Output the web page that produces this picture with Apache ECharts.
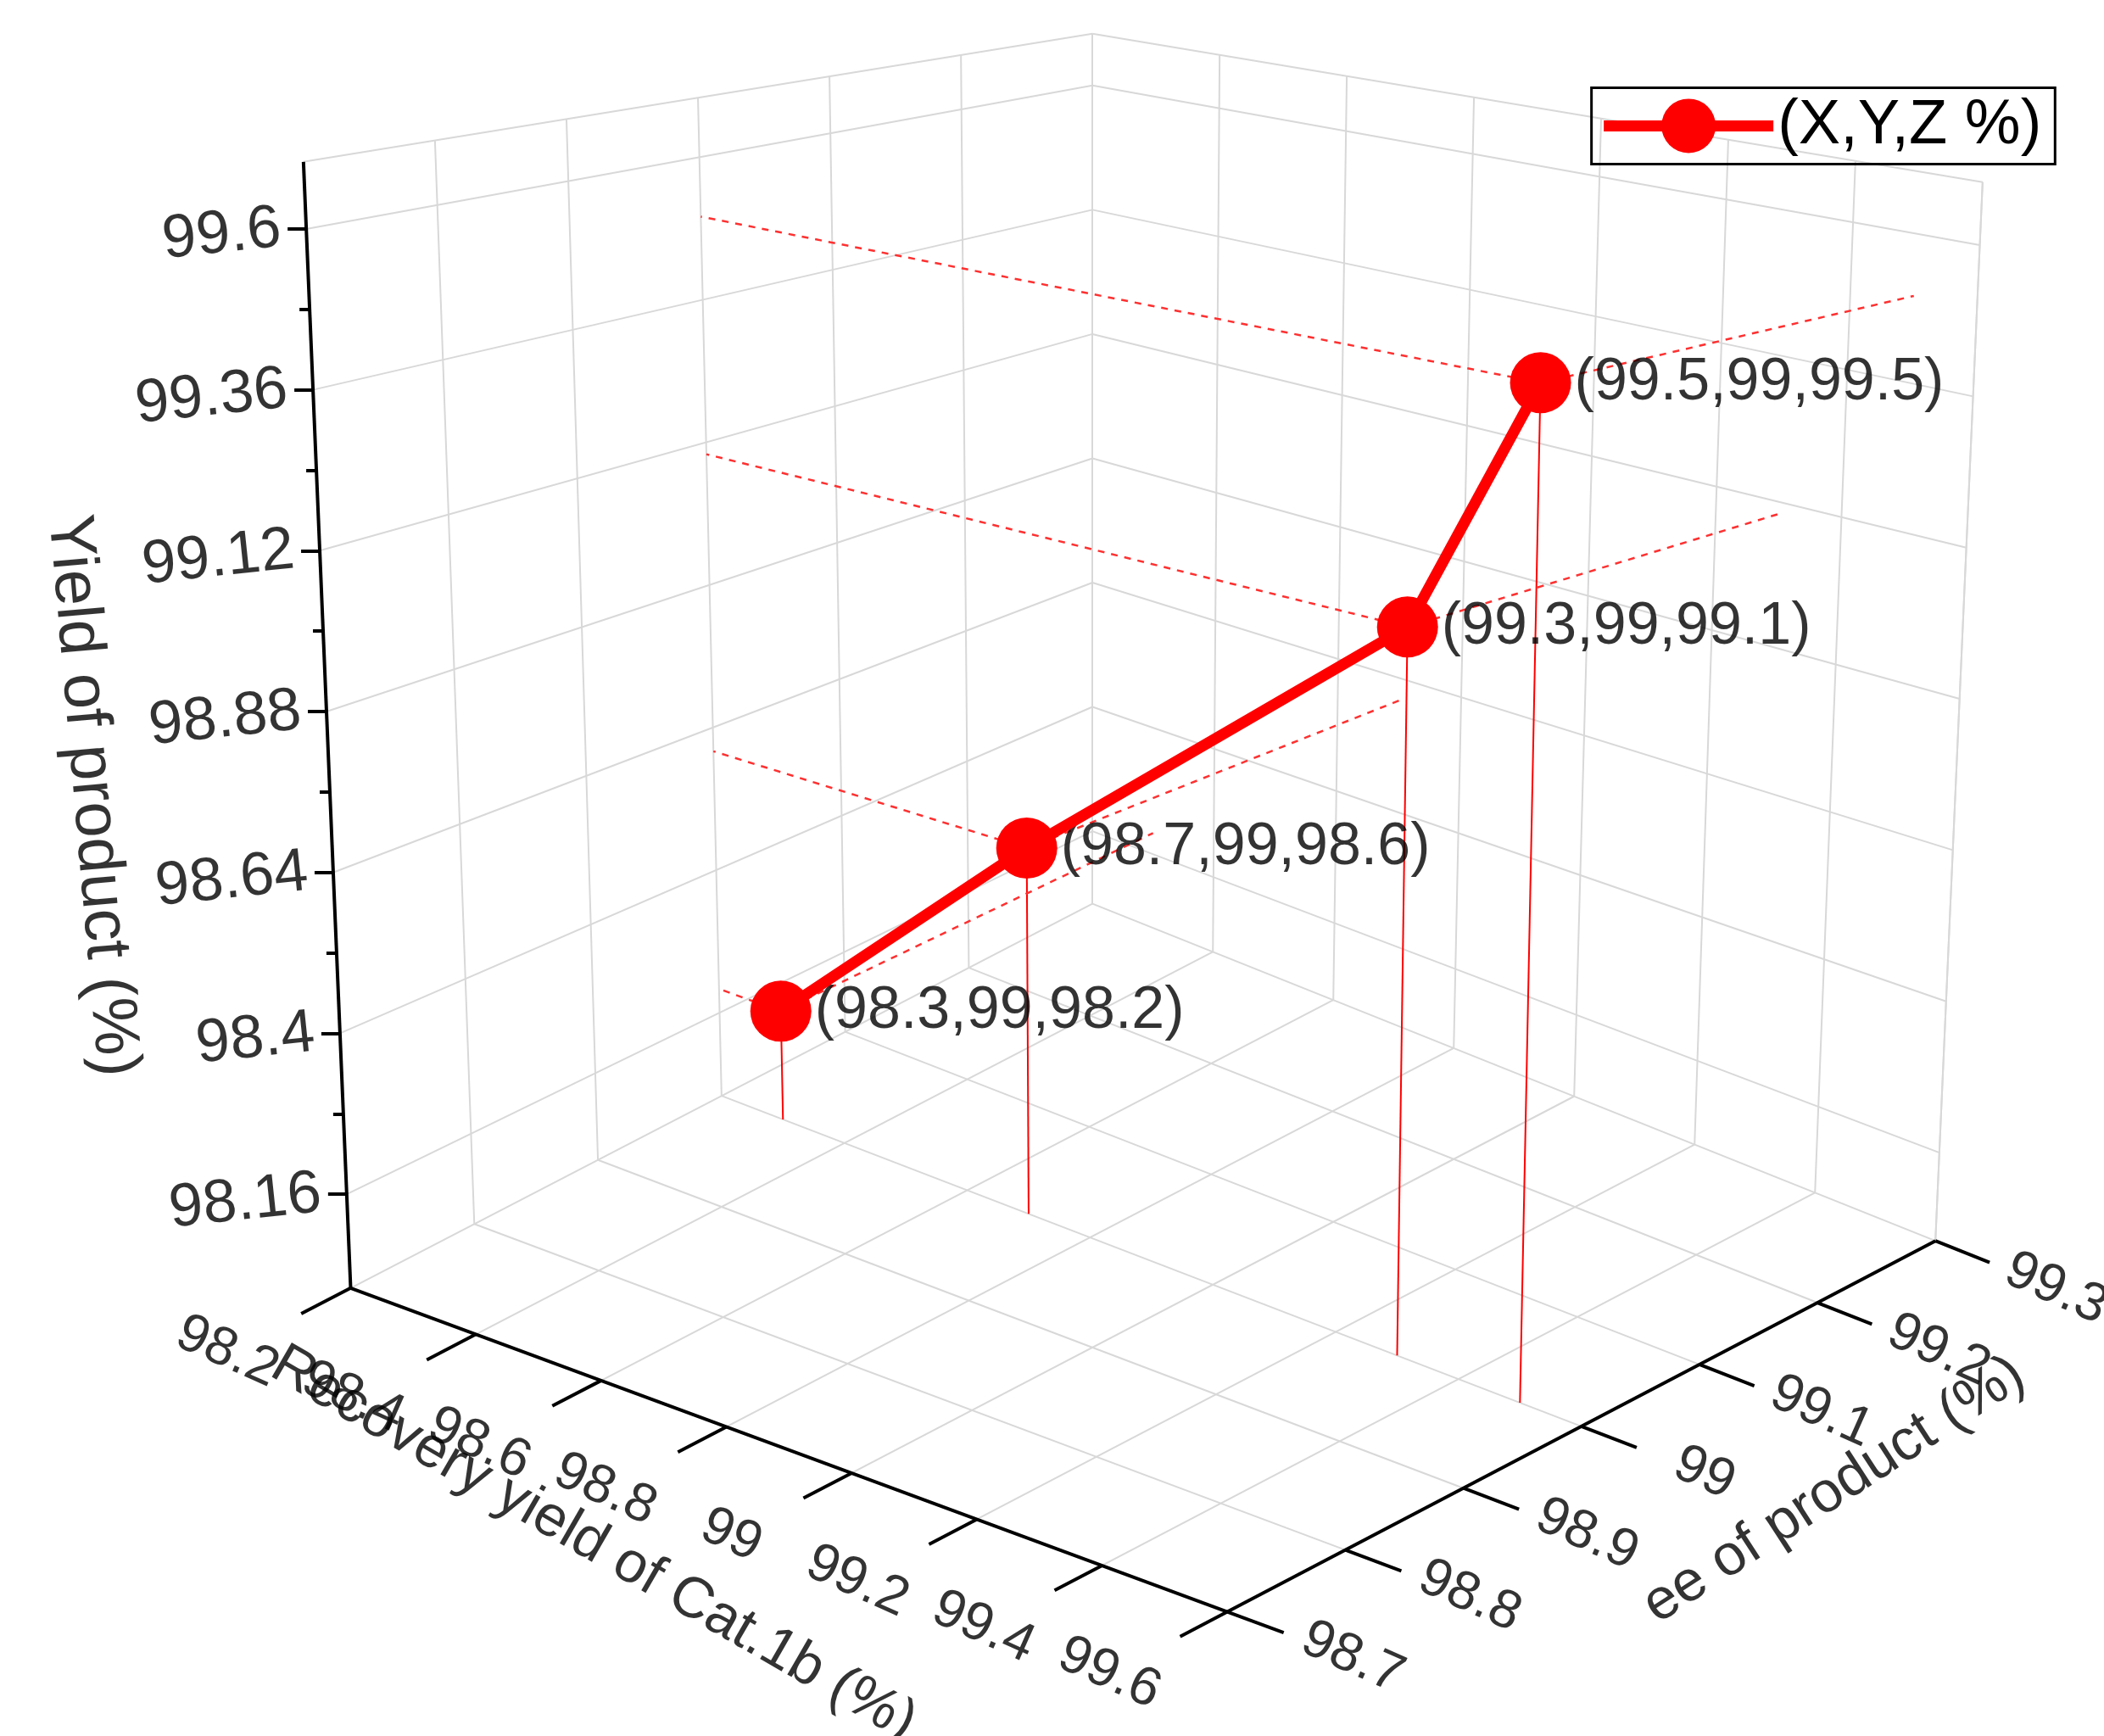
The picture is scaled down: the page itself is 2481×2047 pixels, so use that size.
<!DOCTYPE html>
<html><head><meta charset="utf-8">
<script src="https://cdn.jsdelivr.net/npm/echarts@6/dist/echarts.min.js"></script>
<style>html,body{margin:0;background:#fff}#main{width:2481px;height:2047px}</style>
</head><body><div id="main"></div>
<script>
// data
var recovery = [98.3, 98.7, 99.3, 99.5];   // X
var ee = [99, 99, 99, 99];                 // Y
var yieldP = [98.2, 98.6, 99.1, 99.5];     // Z
var xTicks = [98.2, 98.4, 98.6, 98.8, 99, 99.2, 99.4, 99.6];
var yTicks = [98.7, 98.8, 98.9, 99, 99.1, 99.2, 99.3];
var zTicks = [98.16, 98.4, 98.64, 98.88, 99.12, 99.36, 99.6];
var xRange = [98.2, 99.6], yRange = [98.7, 99.3], zRange = [98.02, 99.7];

var S = 2481 / 1560;
var FONT = 'Liberation Sans';
// screen corners of the box (scaled view), index [u][v][w]
var C = {
  '000': [260, 955], '001': [225, 120],
  '100': [910, 1195], '101': [915, 245],
  '010': [810, 670], '011': [810, 25],
  '110': [1435, 920], '111': [1470, 135]
};
function lerp(a, b, t) { return [a[0] + (b[0] - a[0]) * t, a[1] + (b[1] - a[1]) * t]; }
function proj(x, y, z) {
  var u = (x - xRange[0]) / (xRange[1] - xRange[0]);
  var v = (y - yRange[0]) / (yRange[1] - yRange[0]);
  var w = (z - zRange[0]) / (zRange[1] - zRange[0]);
  var b = lerp(lerp(C['000'], C['100'], u), lerp(C['010'], C['110'], u), v);
  var t = lerp(lerp(C['001'], C['101'], u), lerp(C['011'], C['111'], u), v);
  var p = lerp(b, t, w);
  return [p[0] * S, p[1] * S];
}
var x0 = xRange[0], x1 = xRange[1], y0 = yRange[0], y1 = yRange[1], z0 = zRange[0], z1 = zRange[1];

var grid = [], black = [], red = [], dashed = [];
function seg(arr, a, b) { arr.push({ coords: [a, b] }); }
// walls and floor
zTicks.concat([z1]).forEach(function (z) {
  seg(grid, proj(x0, y0, z), proj(x0, y1, z));
  seg(grid, proj(x0, y1, z), proj(x1, y1, z));
});
yTicks.forEach(function (y) {
  seg(grid, proj(x0, y, z0), proj(x0, y, z1));
  seg(grid, proj(x0, y, z0), proj(x1, y, z0));
});
xTicks.forEach(function (x) {
  seg(grid, proj(x, y1, z0), proj(x, y1, z1));
  seg(grid, proj(x, y0, z0), proj(x, y1, z0));
});
seg(grid, proj(x1, y1, z0), proj(x1, y1, z1));
// axes
seg(black, proj(x0, y0, z0), proj(x0, y0, z1));
seg(black, proj(x0, y0, z0), proj(x1, y0, z0));
seg(black, proj(x1, y0, z0), proj(x1, y1, z0));
xTicks.forEach(function (x) { seg(black, proj(x, y0, z0), proj(x, y0 - 0.04, z0)); });
yTicks.forEach(function (y) { seg(black, proj(x1, y, z0), proj(x1 + 0.09, y, z0)); });
for (var i = 0; i < zTicks.length; i++) {
  var p = proj(x0, y0, zTicks[i]);
  seg(black, p, [p[0] - 22, p[1]]);
  if (i < zTicks.length - 1) {
    var m = proj(x0, y0, (zTicks[i] + zTicks[i + 1]) / 2);
    seg(black, m, [m[0] - 12, m[1]]);
  }
}
// projections of points
var pts = recovery.map(function (x, i) { return proj(x, ee[i], yieldP[i]); });
recovery.forEach(function (x, i) {
  seg(red, pts[i], proj(x, ee[i], z0));
  seg(dashed, pts[i], proj(x0, ee[i], yieldP[i]));
  seg(dashed, pts[i], proj(x, y1, yieldP[i]));
});

var labels = [];
function lab(p, text, opt) {
  labels.push({ value: p, label: Object.assign({ show: true, formatter: text, fontFamily: FONT, color: '#000', fontSize: 72 }, opt) });
}
zTicks.forEach(function (z) {
  var p = proj(x0, y0, z);
  lab([p[0] - 30, p[1]], String(z), { position: 'inside', align: 'right', rotate: 6 });
});
xTicks.forEach(function (x) {
  lab(proj(x, y0 - 0.1, z0), String(x), { position: 'inside', align: 'center', rotate: -24, fontSize: 64 });
});
yTicks.forEach(function (y) {
  lab(proj(x1 + 0.2, y, z0), String(y), { position: 'inside', align: 'center', rotate: -24, fontSize: 64 });
});
lab([440 * S, 1145 * S], 'Recovery yield of Cat.1b (%)', { position: 'inside', rotate: -30, fontSize: 68 });
lab([1360 * S, 1105 * S], 'ee of product (%)', { position: 'inside', rotate: 33, fontSize: 68 });
lab([68 * S, 590 * S], 'Yield of product (%)', { position: 'inside', rotate: -85, fontSize: 76 });
pts.forEach(function (p, i) {
  lab([p[0] + 40, p[1]], '(' + recovery[i] + ',' + ee[i] + ',' + yieldP[i] + ')', { position: 'inside', align: 'left', fontSize: 70 });
});

var chart = echarts.init(document.getElementById('main'));
chart.setOption({
  animation: false,
  backgroundColor: '#fff',
  grid: { left: 0, right: 0, top: 0, bottom: 0 },
  xAxis: { type: 'value', min: 0, max: 2481, show: false },
  yAxis: { type: 'value', min: 0, max: 2047, inverse: true, show: false },
  legend: {
    left: 1180 * S, top: 65 * S, padding: [8, 16, 8, 8],
    borderColor: '#000', borderWidth: 3, itemWidth: 200, itemHeight: 80,
    textStyle: { fontFamily: FONT, fontSize: 74, color: '#000' },
    lineStyle: { width: 13 },
    data: ['(X,Y,Z %)']
  },
  series: [
    { type: 'lines', coordinateSystem: 'cartesian2d', silent: true, data: grid, lineStyle: { color: '#d8d8d8', width: 2, opacity: 1 } },
    { type: 'lines', coordinateSystem: 'cartesian2d', silent: true, data: black, lineStyle: { color: '#000', width: 4, opacity: 1 } },
    { type: 'lines', coordinateSystem: 'cartesian2d', silent: true, data: red, lineStyle: { color: '#ff0000', width: 2, opacity: 1 } },
    { type: 'lines', coordinateSystem: 'cartesian2d', silent: true, data: dashed, lineStyle: { color: '#ff3030', width: 2.5, type: [8, 8], opacity: 1 } },
    { name: '(X,Y,Z %)', type: 'line', data: pts, symbol: 'circle', symbolSize: 72,
      lineStyle: { color: '#ff0000', width: 13 }, itemStyle: { color: '#ff0000' } },
    { type: 'scatter', symbolSize: 0, data: labels, silent: true }
  ]
});
</script></body></html>
